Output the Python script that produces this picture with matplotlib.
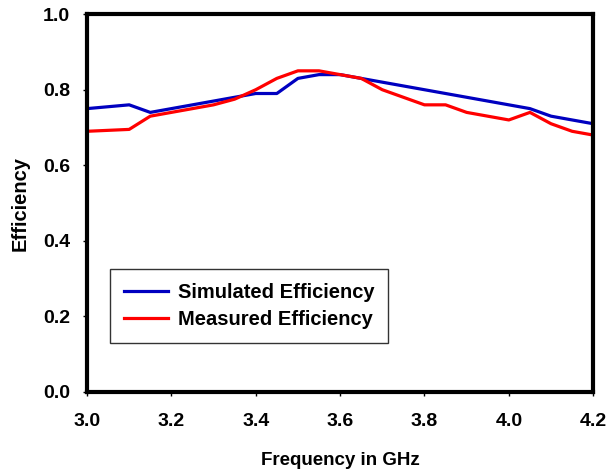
import matplotlib
matplotlib.use("Agg")
import matplotlib.pyplot as plt

plt.rcParams['font.family'] = ['Liberation Sans', 'DejaVu Sans']
plt.rcParams['font.weight'] = 'bold'

freq = [3.0, 3.1, 3.15, 3.2, 3.25, 3.3, 3.35, 3.4, 3.45, 3.5, 3.55, 3.6, 3.65,
        3.7, 3.75, 3.8, 3.85, 3.9, 3.95, 4.0, 4.05, 4.1, 4.15, 4.2]
simulated = [0.75, 0.76, 0.74, 0.75, 0.76, 0.77, 0.78, 0.79, 0.79, 0.83, 0.84, 0.84, 0.83,
             0.82, 0.81, 0.80, 0.79, 0.78, 0.77, 0.76, 0.75, 0.73, 0.72, 0.71]
measured = [0.69, 0.695, 0.73, 0.74, 0.75, 0.76, 0.775, 0.80, 0.83, 0.85, 0.85, 0.84, 0.83,
            0.80, 0.78, 0.76, 0.76, 0.74, 0.73, 0.72, 0.74, 0.71, 0.69, 0.68]

xticks = [3.0, 3.2, 3.4, 3.6, 3.8, 4.0, 4.2]
yticks = [0.0, 0.2, 0.4, 0.6, 0.8, 1.0]

fig = plt.figure(figsize=(6.07, 4.72), dpi=100)
ax = fig.add_axes([0.1433, 0.1695, 0.834, 0.8005])

ax.plot(freq, simulated, color='#0000c0', lw=2.3, label='Simulated Efficiency')
ax.plot(freq, measured, color='#ff0000', lw=2.3, label='Measured Efficiency')

ax.set_xlim(3.0, 4.2)
ax.set_ylim(0.0, 1.0)
ax.set_xticks(xticks)
ax.set_yticks(yticks)
ax.set_xticklabels([f'{t:.1f}' for t in xticks], fontsize=14, fontweight='bold')
ax.set_yticklabels([f'{t:.1f}' for t in yticks], fontsize=14, fontweight='bold')
ax.tick_params(axis='x', direction='out', length=3, width=1, pad=12)
ax.tick_params(axis='y', direction='out', length=3, width=1, pad=9)

for s in ax.spines.values():
    s.set_linewidth(3)

ax.set_xlabel('Frequency in GHz', fontsize=13.5, fontweight='bold', labelpad=16)
ax.set_ylabel('Efficiency', fontsize=14.5, fontweight='bold', labelpad=10)

leg = ax.legend(loc='lower left', bbox_to_anchor=(0.0455, 0.13), fontsize=14.5,
                frameon=True, fancybox=False, edgecolor='black', handlelength=2.2,
                handletextpad=0.5, borderpad=0.68, labelspacing=0.4, borderaxespad=0)
leg.get_frame().set_linewidth(1)
for t in leg.get_texts():
    t.set_fontweight('bold')

fig.savefig('out.png', dpi=100)
